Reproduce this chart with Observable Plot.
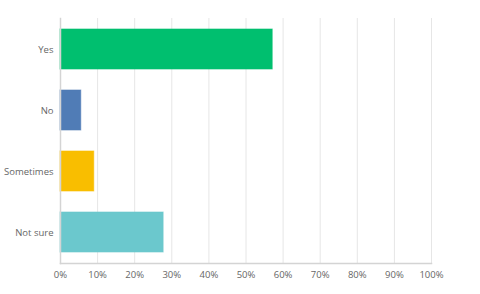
<!DOCTYPE html>
<html>
<head>
<meta charset="utf-8">
<script src="https://cdn.jsdelivr.net/npm/d3@7"></script>
<script src="https://cdn.jsdelivr.net/npm/@observablehq/plot@0.6"></script>
<style>
  html, body { margin: 0; padding: 0; background: #fff; }
  #chart { width: 480px; height: 294px; }
</style>
</head>
<body>
<div id="chart"></div>
<script>
const categories = ["Yes", "No", "Sometimes", "Not sure"];
const values = [57.2, 5.6, 9.1, 27.8];
const colors = ["#00BF6F", "#507CB6", "#F9BE00", "#6BC8CD"];
const xTicks = [0, 10, 20, 30, 40, 50, 60, 70, 80, 90, 100];

const data = categories.map((c, i) => ({category: c, value: values[i], color: colors[i]}));

const chart = Plot.plot({
  width: 480,
  height: 294,
  marginLeft: 60,
  marginRight: 49,
  marginTop: 18,
  marginBottom: 31,
  style: {fontFamily: "'Open Sans', Lato, sans-serif", fontSize: "9.5px", color: "#666", background: "#fff"},
  x: {domain: [0, 100], ticks: xTicks, tickFormat: d => d + "%", label: null, tickSize: 0, tickPadding: 8},
  y: {domain: categories, label: null, paddingInner: 0.35, paddingOuter: 0.175, tickSize: 0, tickPadding: 7},
  marks: [
    Plot.gridX(xTicks, {stroke: "#e6e6e6", strokeOpacity: 1, strokeWidth: 1}),
    Plot.barX(data, {x: "value", y: "category", fill: "color", stroke: "color", strokeOpacity: 0.6, strokeWidth: 1}),
    Plot.frame({anchor: "left", stroke: "#d4d4d4", strokeWidth: 1.5}),
    Plot.frame({anchor: "bottom", stroke: "#d4d4d4", strokeWidth: 1.5}),
    Plot.axisX({ticks: xTicks, tickFormat: d => d + "%", tickSize: 0, tickPadding: 8, label: null, fill: "#666"}),
    Plot.axisY({tickSize: 0, tickPadding: 7, label: null, fill: "#666"})
  ]
});
document.getElementById("chart").appendChild(chart);
</script>
</body>
</html>
